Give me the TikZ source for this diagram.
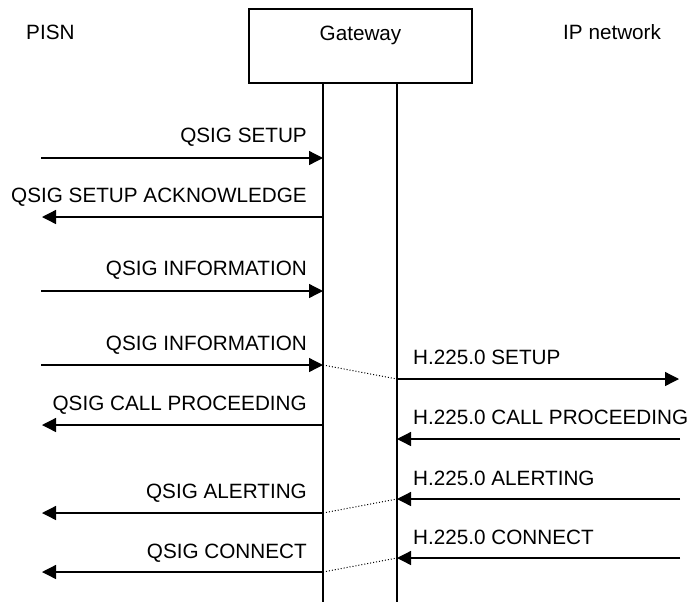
\documentclass[tikz,border=0pt]{standalone}
\usepackage{fontspec}
\setmainfont{Liberation Sans}
\usetikzlibrary{arrows.meta}
\begin{document}
\begin{tikzpicture}[x=1pt,y=-1pt,
  lbl/.style={font=\fontsize{20.7}{24}\selectfont,inner sep=0pt},
  msg/.style={line width=1.3pt,-{Triangle[length=14pt,width=14pt]}},
  life/.style={line width=1.2pt},
  link/.style={line width=1pt,dotted}]
\useasboundingbox (0,0) rectangle (693,603);
% gateway box
\node[draw,line width=1.2pt,minimum width=223pt,minimum height=74pt,inner sep=0pt] (gw) at (360.5,46) {};
\node[lbl,anchor=base] (gwt) at (360.5,40) {Gateway};
\node[lbl,anchor=base west] (pisn) at (26,39) {PISN};
\node[lbl,anchor=base west] (ipn) at (563,39) {IP network};
% lifelines
\coordinate (a0) at (323,83);
\coordinate (a1) at (323,602);
\coordinate (b0) at (397,83);
\coordinate (b1) at (397,602);
\draw[life] (a0) -- (a1);
\draw[life] (b0) -- (b1);
% QSIG side coordinates
\coordinate (L1) at (41,158);  \coordinate (G1) at (323,158);
\coordinate (L2) at (42,217);  \coordinate (G2) at (323,217);
\coordinate (L3) at (41,291);  \coordinate (G3) at (323,291);
\coordinate (L4) at (41,365);  \coordinate (G4) at (323,365);
\coordinate (L5) at (42,425);  \coordinate (G5) at (323,425);
\coordinate (L6) at (42,513);  \coordinate (G6) at (323,513);
\coordinate (L7) at (42,572);  \coordinate (G7) at (323,572);
% H.225 side coordinates
\coordinate (H1) at (397,379); \coordinate (R1) at (679,379);
\coordinate (H2) at (397,439); \coordinate (R2) at (680,439);
\coordinate (H3) at (397,499); \coordinate (R3) at (680,499);
\coordinate (H4) at (397,558); \coordinate (R4) at (680,558);
% QSIG messages
\draw[msg] (L1) -- (G1);
\node[lbl,anchor=base east] (t1) at (307,142) {QSIG SETUP};
\draw[msg] (G2) -- (L2);
\node[lbl,anchor=base east] (t2) at (307,202) {QSIG SETUP ACKNOWLEDGE};
\draw[msg] (L3) -- (G3);
\node[lbl,anchor=base east] (t3) at (307,275) {QSIG INFORMATION};
\draw[msg] (L4) -- (G4);
\node[lbl,anchor=base east] (t4) at (307,350) {QSIG INFORMATION};
\draw[msg] (G5) -- (L5);
\node[lbl,anchor=base east] (t5) at (307,410) {QSIG CALL PROCEEDING};
\draw[msg] (G6) -- (L6);
\node[lbl,anchor=base east] (t6) at (307,498) {QSIG ALERTING};
\draw[msg] (G7) -- (L7);
\node[lbl,anchor=base east] (t7) at (307,558) {QSIG CONNECT};
% H.225.0 messages
\draw[msg] (H1) -- (R1);
\node[lbl,anchor=base west] (h1) at (413,364) {H.225.0 SETUP};
\draw[msg] (R2) -- (H2);
\node[lbl,anchor=base west] (h2) at (413,424) {H.225.0 CALL PROCEEDING};
\draw[msg] (R3) -- (H3);
\node[lbl,anchor=base west] (h3) at (413,485) {H.225.0 ALERTING};
\draw[msg] (R4) -- (H4);
\node[lbl,anchor=base west] (h4) at (413,544) {H.225.0 CONNECT};
% internal links
\draw[link] (G4) -- (H1);
\draw[link] (G6) -- (H3);
\draw[link] (G7) -- (H4);
\end{tikzpicture}
\end{document}
